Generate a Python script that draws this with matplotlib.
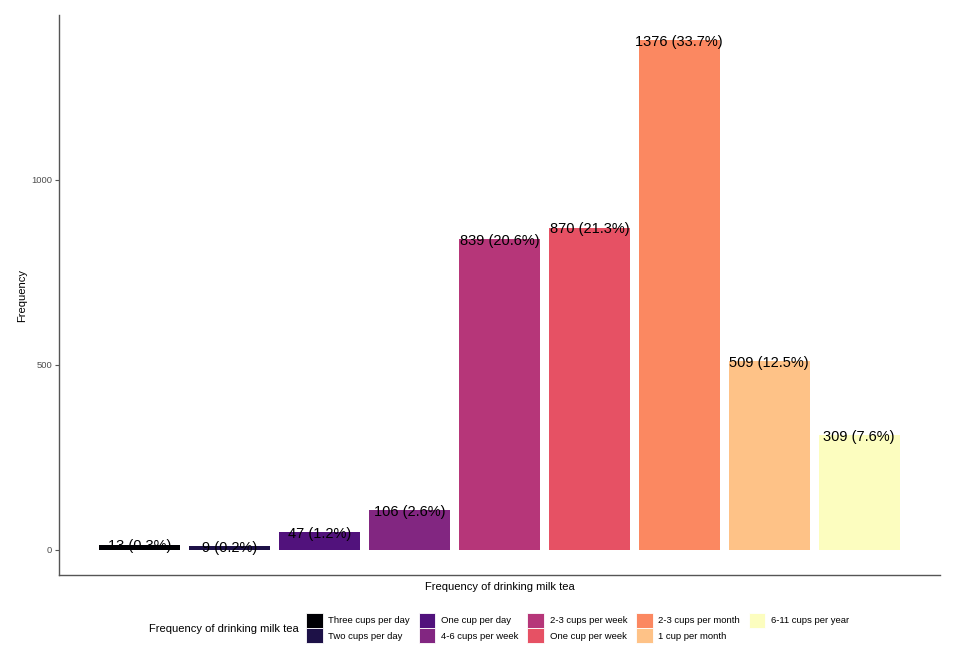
import matplotlib.pyplot as plt
from matplotlib.patches import Patch

plt.rcParams['font.family'] = ['Liberation Sans', 'DejaVu Sans']

# data
categories = ['Three cups per day', 'Two cups per day', 'One cup per day',
              '4-6 cups per week', '2-3 cups per week', 'One cup per week',
              '2-3 cups per month', '1 cup per month', '6-11 cups per year']
counts = [13, 9, 47, 106, 839, 870, 1376, 509, 309]
colors = ['#000004', '#1D1147', '#51127C', '#822681', '#B63679',
          '#E65164', '#FB8861', '#FEC287', '#FCFDBF']

total = sum(counts)
labels = ['%d (%.1f%%)' % (c, 100.0 * c / total) for c in counts]

fig = plt.figure(figsize=(9.6, 6.54), dpi=100)
ax = fig.add_axes([59/960, 1 - 575/654, 881/960, 560/654])

x = list(range(1, len(counts) + 1))
ax.bar(x, counts, width=0.9, color=colors)
for xi, c, lab in zip(x, counts, labels):
    ax.text(xi, c, lab, ha='center', va='center_baseline', fontsize=10.5,
            color='black')

ax.set_xlim(0.1, 9.9)
ax.set_ylim(-0.05 * max(counts), 1.05 * max(counts))
ax.set_xticks([])
ax.set_yticks([0, 500, 1000])
ax.tick_params(axis='y', labelsize=6.8, labelcolor='#4d4d4d', color='#555555',
               length=3, width=0.8, pad=2)
for s in ['top', 'right']:
    ax.spines[s].set_visible(False)
for s in ['left', 'bottom']:
    ax.spines[s].set_color('#555555')
    ax.spines[s].set_linewidth(1.0)
ax.set_xlabel('Frequency of drinking milk tea', fontsize=8, labelpad=5)
ax.set_ylabel('Frequency', fontsize=8, labelpad=3)

handles = [Patch(facecolor=c, edgecolor='white', linewidth=0.6) for c in colors]
fig.text(149/960, 1 - 629/654, 'Frequency of drinking milk tea', fontsize=8,
         va='center', ha='left')
fig.legend(handles, categories, ncol=5, loc='center left',
           bbox_to_anchor=(306/960, 1 - 628/654), frameon=False, fontsize=6.8,
           handlelength=1.75, handleheight=2.0, handletextpad=0.6,
           columnspacing=0.95, labelspacing=0.05, borderpad=0, borderaxespad=0)

fig.savefig('out.png', dpi=100)
